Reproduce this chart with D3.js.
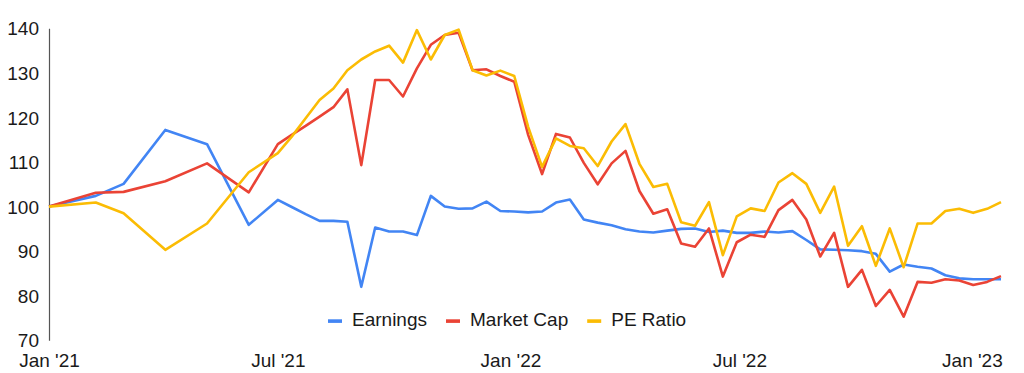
<!DOCTYPE html>
<html>
<head>
<meta charset="utf-8">
<script src="https://cdn.jsdelivr.net/npm/d3@7"></script>
<style>
  body { margin: 0; background: #fff; }
  svg { display: block; font-family: "Liberation Sans", Arial, sans-serif; }
</style>
</head>
<body>
<svg id="chart" width="1024" height="373"></svg>
<script>
// dates of the points (first half year is sparse, then ~11 day steps)
let dates = [
  "2021-01-01","2021-02-07","2021-03-01","2021-04-03","2021-05-06","2021-06-08",
  "2021-07-01","2021-07-12","2021-07-23","2021-08-03","2021-08-14","2021-08-25",
  "2021-09-05","2021-09-16","2021-09-27","2021-10-08","2021-10-19","2021-10-30",
  "2021-11-10","2021-11-21","2021-12-02","2021-12-13","2021-12-24","2022-01-04",
  "2022-01-15","2022-01-26","2022-02-06","2022-02-17","2022-02-28","2022-03-11",
  "2022-03-22","2022-04-02","2022-04-13","2022-04-24","2022-05-05","2022-05-16",
  "2022-05-27","2022-06-07","2022-06-18","2022-06-29","2022-07-10","2022-07-21",
  "2022-08-01","2022-08-12","2022-08-23","2022-09-03","2022-09-14","2022-09-25",
  "2022-10-06","2022-10-17","2022-10-28","2022-11-08","2022-11-19","2022-11-30",
  "2022-12-11","2022-12-22","2023-01-02","2023-01-13","2023-01-24"
];

let earnings = [
  100, 102.4, 105.1, 117.2, 114.0, 95.9,
  101.5, 99.9, 98.3, 96.8, 96.8, 96.6,
  82.0, 95.3, 94.4, 94.4, 93.6, 102.4,
  100.0, 99.5, 99.6, 101.1, 99.0, 98.9,
  98.7, 98.9, 100.9, 101.6, 97.1, 96.4,
  95.8, 94.9, 94.4, 94.2, 94.6, 95.0,
  95.1, 94.3, 94.6, 94.1, 94.1, 94.4,
  94.2, 94.5, 92.5, 90.4, 90.3, 90.2,
  90.0, 89.4, 85.4, 87.0, 86.5, 86.1,
  84.6, 83.9, 83.7, 83.7, 83.7
];

let marketCap = [
  100, 103.1, 103.3, 105.7, 109.7, 103.2,
  114.0, 116.1, 118.1, 120.2, 122.3, 126.3,
  109.3, 128.4, 128.4, 124.7, 131.0, 136.3,
  138.5, 139.0, 130.6, 130.8, 129.3, 128.0,
  116.1, 107.3, 116.3, 115.5, 109.8, 105.0,
  109.7, 112.5, 103.5, 98.4, 99.4, 91.7,
  91.0, 95.1, 84.3, 92.0, 93.7, 93.2,
  99.2, 101.5, 97.1, 88.8, 94.1, 82.0,
  85.8, 77.7, 81.3, 75.3, 83.1, 82.9,
  83.7, 83.4, 82.4, 83.1, 84.4
];

let peRatio = [
  100, 100.9, 98.5, 90.3, 96.2, 107.7,
  112.0, 115.7, 119.8, 123.9, 126.5, 130.6,
  133.0, 134.8, 136.1, 132.3, 139.6, 133.0,
  138.5, 139.7, 130.6, 129.4, 130.5, 129.3,
  117.9, 108.9, 115.3, 113.6, 113.1, 109.1,
  114.6, 118.5, 109.6, 104.4, 105.1, 96.5,
  95.7, 101.0, 89.1, 97.8, 99.6, 99.0,
  105.4, 107.5, 105.1, 98.6, 104.5, 91.2,
  95.6, 86.7, 95.1, 86.4, 96.2, 96.2,
  99.0, 99.5, 98.6, 99.5, 101.0
];

let seriesNames = ["Earnings", "Market Cap", "PE Ratio"];
let seriesColors = ["#4285F4", "#EA4335", "#FBBC04"];
let yTicks = [70, 80, 90, 100, 110, 120, 130, 140];
let xTickDates = ["2021-01-01", "2021-07-01", "2022-01-01", "2022-07-01", "2023-01-01"];
let xTickLabels = ["Jan '21", "Jul '21", "Jan '22", "Jul '22", "Jan '23"];

let parse = d3.timeParse("%Y-%m-%d");
let xDates = dates.map(parse);

let svg = d3.select("#chart");
let plotLeft = 49, plotRight = 1001, plotTop = 28.3, plotBottom = 340.3;

let x = d3.scaleTime().domain(d3.extent(xDates)).range([plotLeft, plotRight]);
let y = d3.scaleLinear().domain([70, 140]).range([plotBottom, plotTop]);

// ось OY: только линия и подписи
let gy = svg.append("g")
  .attr("transform", `translate(${plotLeft},0)`)
  .call(d3.axisLeft(y).tickValues(yTicks).tickSize(0).tickPadding(10));
gy.select(".domain").attr("stroke", "#555").attr("stroke-width", 1.2);
gy.selectAll("text")
  .attr("font-size", 19)
  .attr("font-family", "Liberation Sans, Arial, sans-serif")
  .attr("fill", "#1a1a1a")
  .attr("dy", "0.35em");

// ось OX: без линии
let gx = svg.append("g")
  .attr("transform", `translate(0,${plotBottom})`)
  .call(d3.axisBottom(x)
    .tickValues(xTickDates.map(parse))
    .tickFormat((d, i) => xTickLabels[i])
    .tickSize(0).tickPadding(13));
gx.select(".domain").remove();
gx.selectAll("text")
  .attr("font-size", 19)
  .attr("font-family", "Liberation Sans, Arial, sans-serif")
  .attr("fill", "#1a1a1a");

// линии
let allSeries = [earnings, marketCap, peRatio];
let line = d3.line()
  .x((d, i) => x(xDates[i]))
  .y(d => y(d));

allSeries.forEach(function(vals, s) {
  svg.append("path")
    .datum(vals)
    .attr("fill", "none")
    .attr("stroke", seriesColors[s])
    .attr("stroke-width", 2.6)
    .attr("stroke-linejoin", "round")
    .attr("d", line);
});

// легенда
let legend = svg.append("g").attr("transform", "translate(328,0)");
let lx = 0;
seriesNames.forEach(function(name, i) {
  legend.append("rect")
    .attr("x", lx).attr("y", 319.3)
    .attr("width", 14).attr("height", 3.6)
    .attr("fill", seriesColors[i]);
  let t = legend.append("text")
    .attr("x", lx + 24).attr("y", 326.3)
    .attr("font-size", 19)
    .attr("fill", "#1a1a1a")
    .text(name);
  lx += 24 + t.node().getComputedTextLength() + 19;
});
</script>
</body>
</html>
